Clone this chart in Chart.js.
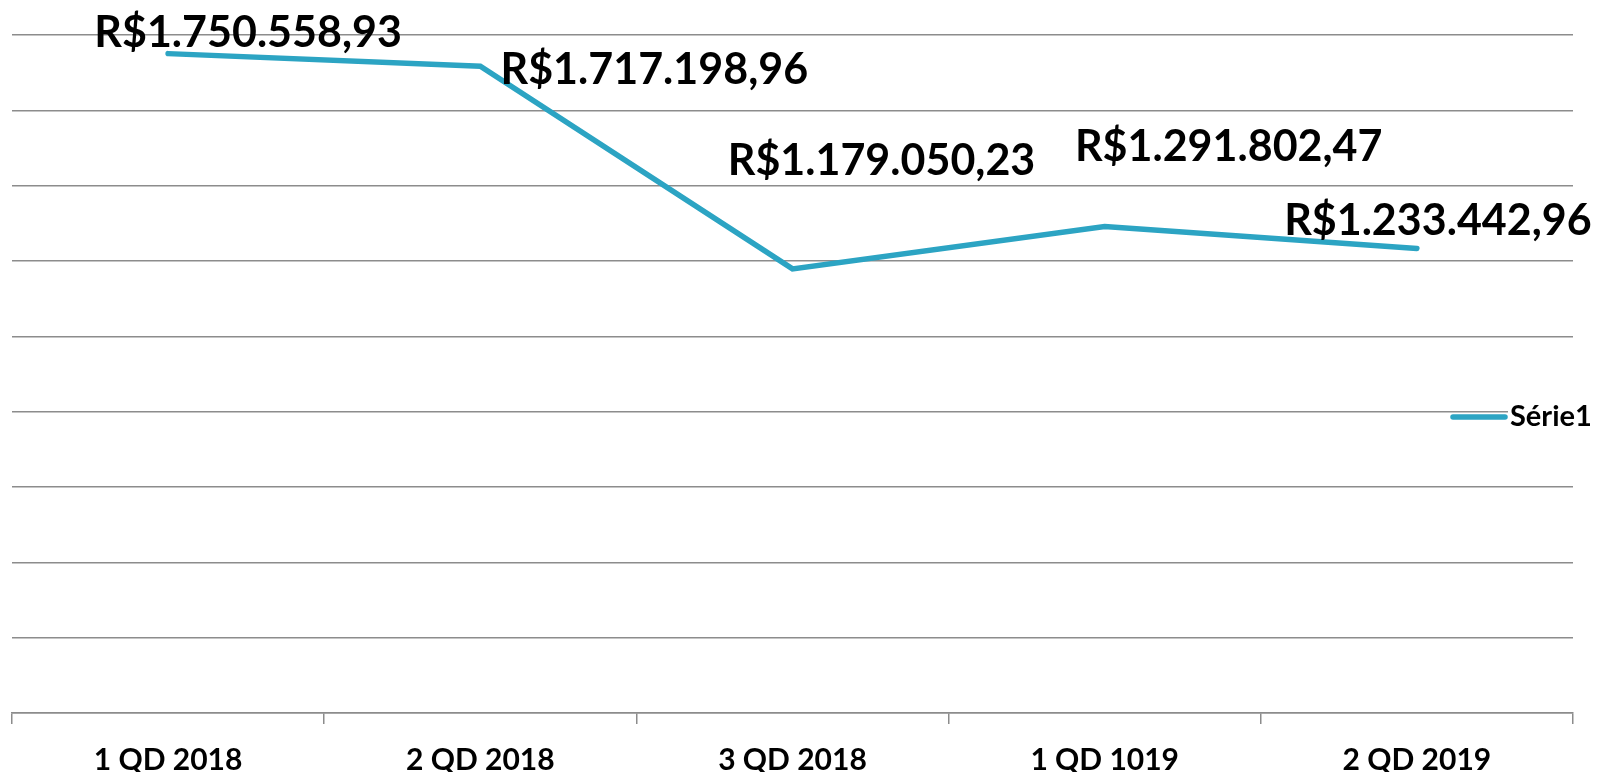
<!DOCTYPE html>
<html>
<head>
<meta charset="utf-8">
<title>Série1</title>
<script src="https://cdn.jsdelivr.net/npm/chart.js@4"></script>
<style>
  html, body { margin: 0; padding: 0; background: #fff; }
  #chart { display: block; }
</style>
</head>
<body>
<canvas id="chart" width="1600" height="772"></canvas>
<script>
// data
var categories = ['1 QD 2018', '2 QD 2018', '3 QD 2018', '1 QD 1019', '2 QD 2019'];
var values = [1750558.93, 1717198.96, 1179050.23, 1291802.47, 1233442.96];
var seriesName = 'Série1';

// where each value label sits relative to its point (centre x, baseline y)
var labelOffsets = [[80, -7], [174, 18], [89, -94], [124, -65], [21, -13]];

var lineColor = '#2ca4c3';
var gridColor = '#8c8c8c';
var fontFamily = 'Lato, Carlito, Calibri, "Open Sans", sans-serif';

function brl(v) {
  var parts = v.toFixed(2).split('.');
  return 'R$' + parts[0].replace(/\B(?=(\d{3})+(?!\d))/g, '.') + ',' + parts[1];
}

var valueLabels = {
  id: 'valueLabels',
  afterDatasetsDraw: function (chart) {
    var ctx = chart.ctx;
    var meta = chart.getDatasetMeta(0);
    ctx.save();
    ctx.font = 'bold 43px ' + fontFamily;
    ctx.fillStyle = '#000';
    ctx.textAlign = 'center';
    ctx.textBaseline = 'alphabetic';
    meta.data.forEach(function (pt, i) {
      var off = labelOffsets[i];
      ctx.fillText(brl(values[i]), pt.x + off[0], pt.y + off[1]);
    });
    ctx.restore();
  }
};

// Excel style legend that sits over the plot area on the right
var overlayLegend = {
  id: 'overlayLegend',
  afterDraw: function (chart) {
    var ctx = chart.ctx;
    var y = 417;
    ctx.save();
    ctx.font = 'bold 29px ' + fontFamily;
    var w = ctx.measureText(seriesName).width;
    ctx.fillStyle = '#fff';
    ctx.fillRect(1508, 398, w + 8, 34);
    ctx.strokeStyle = lineColor;
    ctx.lineWidth = 5.5;
    ctx.lineCap = 'round';
    ctx.beginPath();
    ctx.moveTo(1453, y);
    ctx.lineTo(1505, y);
    ctx.stroke();
    ctx.fillStyle = '#000';
    ctx.textBaseline = 'alphabetic';
    ctx.fillText(seriesName, 1510, 426);
    ctx.restore();
  }
};

new Chart(document.getElementById('chart'), {
  type: 'line',
  data: {
    labels: categories,
    datasets: [{
      label: seriesName,
      data: values,
      borderColor: lineColor,
      backgroundColor: lineColor,
      borderWidth: 5.5,
      borderCapStyle: 'round',
      borderJoinStyle: 'miter',
      pointRadius: 0,
      tension: 0,
      fill: false
    }]
  },
  options: {
    responsive: false,
    animation: false,
    events: [],
    layout: {
      padding: { left: 12, right: 27, top: 35, bottom: 0 }
    },
    scales: {
      x: {
        offset: true,
        afterFit: function (scale) { scale.height = 59; },
        border: { display: true, color: gridColor, width: 1.5 },
        grid: {
          offset: true,
          drawOnChartArea: false,
          drawTicks: true,
          tickLength: 11,
          color: gridColor,
          lineWidth: 1.5
        },
        ticks: {
          color: '#000',
          padding: 22,
          maxRotation: 0,
          font: { family: fontFamily, size: 30, weight: 'bold', lineHeight: 0.95 }
        }
      },
      y: {
        min: 0,
        max: 1800000,
        border: { display: false },
        grid: { color: gridColor, lineWidth: 1.5, drawTicks: false },
        ticks: { display: false, stepSize: 200000 }
      }
    },
    plugins: {
      legend: { display: false },
      tooltip: { enabled: false },
      title: { display: false }
    }
  },
  plugins: [valueLabels, overlayLegend]
});
</script>
</body>
</html>
